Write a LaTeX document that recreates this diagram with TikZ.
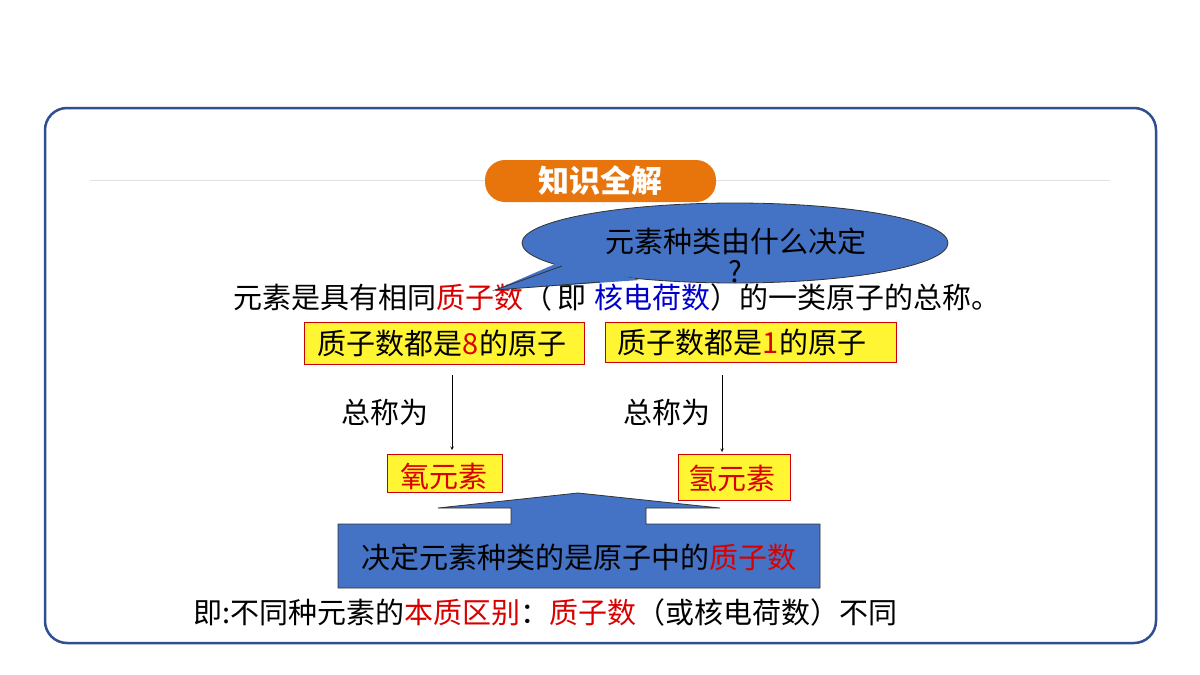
\documentclass[tikz,border=0pt]{standalone}
\usepackage{fontspec}
\setmainfont{Noto Sans CJK SC}
\begin{document}
\begin{tikzpicture}[x=1pt,y=-1pt,
  ybox/.style={draw=red!80!black,fill=yellow!80!white,line width=0.8pt,inner sep=0pt},
  lab/.style={font=\fontsize{29}{32}\selectfont}]
\definecolor{frameblue}{HTML}{2F4F8F}
\definecolor{cblue}{HTML}{4472C4}
\definecolor{orng}{HTML}{E8740C}
\useasboundingbox (0,0) rectangle (1200,675);
\fill[white] (0,0) rectangle (1200,675);
\draw[frameblue,line width=2.5pt,rounded corners=22pt] (45,108) rectangle (1156,643);
\draw[black!12,line width=0.8pt] (90,180) -- (1110,180);
\fill[orng,rounded corners=20pt] (485,160) rectangle (716,202);
\node[text=white,font=\fontsize{31}{33}\selectfont\bfseries] (title) at (600,181) {知识全解};
% main sentence
\node[lab,anchor=west] (main) at (230,297) {元素是具有相同\textcolor{red!85!black}{质子数}（\,即\;\textcolor{blue!80!black}{核电荷数}）的一类原子的总称。};
% callout ellipse
\draw[black!80,fill=cblue,line width=0.8pt] (735,243) ellipse [x radius=213, y radius=40];
\fill[cblue] (560,262) -- (495,290) -- (640,280) -- cycle;
\draw[black!80,line width=0.8pt] (562,266) -- (495,290) -- (600,282);
\node[lab] (q) at (736,241) {元素种类由什么决定};
\node[lab] (qm) at (735,272) {?};
% boxes
\draw[ybox] (304,322) rectangle (584,364);
\node[lab] (b1) at (442,343) {质子数都是\textcolor{red!85!black}{8}的原子};
\draw[ybox] (605,322) rectangle (896,362);
\node[lab] (b2) at (742,342) {质子数都是\textcolor{red!85!black}{1}的原子};
\coordinate (a1) at (452,375); \coordinate (a1e) at (452,450);
\coordinate (a2) at (722,375); \coordinate (a2e) at (722,452);
\draw[-stealth,line width=0.6pt] (a1) -- (a1e);
\draw[-stealth,line width=0.6pt] (a2) -- (a2e);
\node[lab] (t1) at (385,413) {总称为};
\node[lab] (t2) at (667,413) {总称为};
\draw[ybox] (387,454) rectangle (502,492);
\node[lab,text=red!85!black] (o) at (444,476) {氧元素};
\draw[ybox] (678,454) rectangle (790,500);
\node[lab,text=red!85!black] (h) at (732,478) {氢元素};
% up-arrow callout
\draw[black!80,fill=cblue,line width=0.8pt] (338,524) -- (511,524) -- (511,508) -- (438,508) -- (578,493) -- (720,508) -- (646,508) -- (646,524) -- (820,524) -- (820,588) -- (338,588) -- cycle;
\node[lab] (c) at (579,557) {决定元素种类的是原子中的\textcolor{red!85!black}{质子数}};
\node[lab,anchor=west] (bot) at (190,612) {即:不同种元素的\textcolor{red!85!black}{本质区别}：\textcolor{red!85!black}{质子数}（或核电荷数）不同};
\end{tikzpicture}
\end{document}
